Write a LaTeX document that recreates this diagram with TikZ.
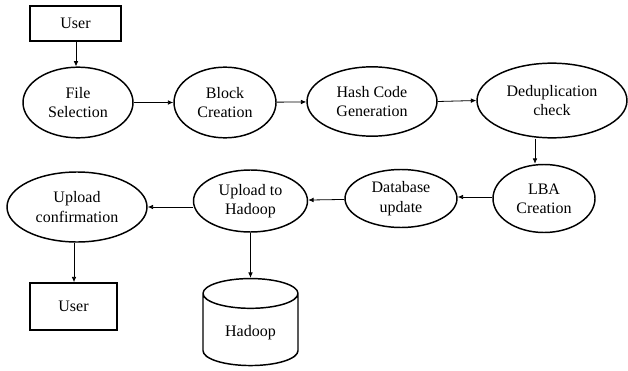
\documentclass[tikz,border=0pt]{standalone}
\usepackage{fontspec}
\setmainfont{Liberation Serif}
\usetikzlibrary{shapes.geometric,arrows.meta}

\tikzset{every picture/.style={line width=0.75pt}}
\tikzset{
  proc/.style={draw, ellipse, line width=1.1pt, inner sep=0pt, align=center, font=\fontsize{12}{14.5}\selectfont},
  actor/.style={draw, rectangle, line width=1.2pt, inner sep=0pt, font=\fontsize{12}{14.5}\selectfont},
  flow/.style={-{Latex[length=4pt,width=3.5pt]}, line width=0.6pt}
}

\begin{document}
\begin{tikzpicture}[x=0.75pt,y=0.75pt,yscale=-1,xscale=1]
\useasboundingbox (0,0) rectangle (628,371);

%Top row
\node [actor, minimum width=68.25pt, minimum height=26.25pt] (user) at (75.5,23.5) {User};
\node [proc, minimum width=82.5pt, minimum height=53pt] (filesel) at (78,102.5) {File\\Selection};
\node [proc, minimum width=76.5pt, minimum height=53pt] (block) at (225,102.5) {Block\\Creation};
\node [proc, minimum width=97.5pt, minimum height=52pt] (hash) at (372,101.5) {Hash Code\\Generation};
\node [proc, minimum width=112.5pt, minimum height=56pt] (dedup) at (552,100.5) {Deduplication\\check};

%Middle row
\node [proc, minimum width=76.5pt, minimum height=51pt] (lba) at (544,198.5) {LBA\\Creation};
\node [proc, minimum width=84pt, minimum height=43.5pt] (dbupd) at (401,198.5) {Database\\update};
\node [proc, minimum width=85.5pt, minimum height=46.5pt] (upload) at (250.5,201) {Upload to\\Hadoop};
\node [proc, minimum width=105pt, minimum height=52.5pt] (confirm) at (77,207) {Upload\\confirmation};

%Bottom row
\node [actor, minimum width=65.25pt, minimum height=35.25pt] (userb) at (73.5,306.5) {User};
\node [draw, cylinder, shape border rotate=90, aspect=0.5, line width=1.1pt, minimum width=71.25pt, minimum height=65.25pt, font=\fontsize{12}{14.5}\selectfont] (hadoop) at (250.5,333) {Hadoop};

%Connectors
\draw [flow] (user.south -| 76,0) -- (filesel.north -| 76,0);
\draw [flow] (filesel) -- (block);
\draw [flow] (block) -- (hash);
\draw [flow] (hash.east) -- (dedup.west);
\draw [flow] (dedup.south -| 535,0) -- (lba.north -| 535,0);
\draw [flow] (lba.west |- 0,197) -- (dbupd.east |- 0,197);
\draw [flow] (dbupd) -- (upload);
\draw [flow] (upload.west |- 0,207) -- (confirm.east |- 0,207);
\draw [flow] (confirm.south -| 74,0) -- (userb.north -| 74,0);
\draw [flow] (upload) -- (hadoop);

\end{tikzpicture}
\end{document}
